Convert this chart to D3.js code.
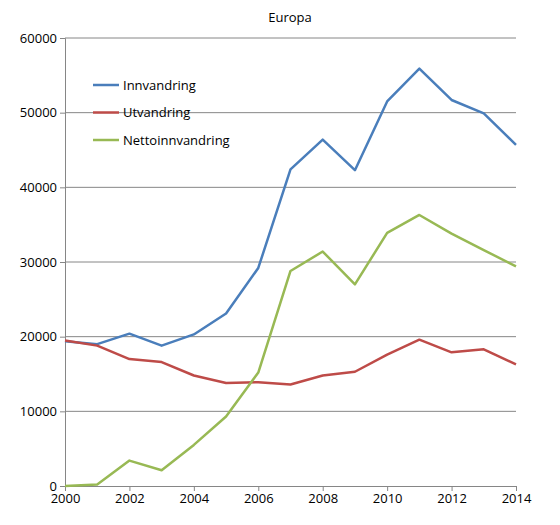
<!DOCTYPE html>
<html><head><meta charset="utf-8">
<script src="https://cdn.jsdelivr.net/npm/d3@7"></script>
<style>body{margin:0;background:#fff}text{font-family:"Open Sans",sans-serif;font-size:13px;fill:#000}</style>
</head><body><svg id="c" width="560" height="525"></svg>
<script>
var years = d3.range(2000, 2015);
var innvandring = [19400,19000,20400,18800,20300,23100,29200,42400,46400,42300,51500,55900,51700,49900,45700];
var utvandring = [19500,18800,17000,16600,14800,13800,13900,13600,14800,15300,17600,19600,17900,18300,16300];
var netto = [0,200,3400,2100,5500,9300,15200,28800,31400,27000,33900,36300,33800,31600,29400];
var series = [
  {key:'Innvandring', values:innvandring, color:'#4a7ebb'},
  {key:'Utvandring', values:utvandring, color:'#be4b48'},
  {key:'Nettoinnvandring', values:netto, color:'#98b954'}
];
var svg = d3.select('#c');
var x = d3.scaleLinear().domain([2000,2014]).range([65,516]);
var y = d3.scaleLinear().domain([0,60000]).range([486,38]);

svg.append('g').selectAll('line').data(d3.range(10000,60001,10000)).join('line')
  .attr('x1',65).attr('x2',516).attr('y1',y).attr('y2',y).attr('stroke','#868686');

svg.append('g').attr('transform','translate(65,0)')
  .call(d3.axisLeft(y).tickValues(d3.range(0,60001,10000)).tickSize(5).tickFormat(d3.format('d')))
  .call(g=>g.selectAll('path,line').attr('stroke','#868686'))
  .call(g=>g.selectAll('text').style('font-size','13px').attr('font-family','Open Sans'));
svg.append('g').attr('transform','translate(0,486)')
  .call(d3.axisBottom(x).tickValues(d3.range(2000,2015,2)).tickSize(5).tickFormat(d3.format('d')))
  .call(g=>g.selectAll('path,line').attr('stroke','#868686'))
  .call(g=>g.selectAll('text').style('font-size','13px').attr('font-family','Open Sans'));

var line = d3.line().x((d,i)=>x(years[i])).y(d=>y(d));
series.forEach(function(s){
  svg.append('path').datum(s.values).attr('d',line).attr('fill','none')
    .attr('stroke',s.color).attr('stroke-width',2.5).attr('stroke-linejoin','round');
});

svg.append('text').attr('x',290).attr('y',22).attr('text-anchor','middle').text('Europa');

var lg = svg.append('g').selectAll('g').data(series).join('g')
  .attr('transform',(d,i)=>'translate(93,'+(85+i*27.5)+')');
lg.append('line').attr('x1',0).attr('x2',26).attr('stroke',d=>d.color).attr('stroke-width',2.5);
lg.append('text').attr('x',30).attr('y',4.5).text(d=>d.key);
</script></body></html>
